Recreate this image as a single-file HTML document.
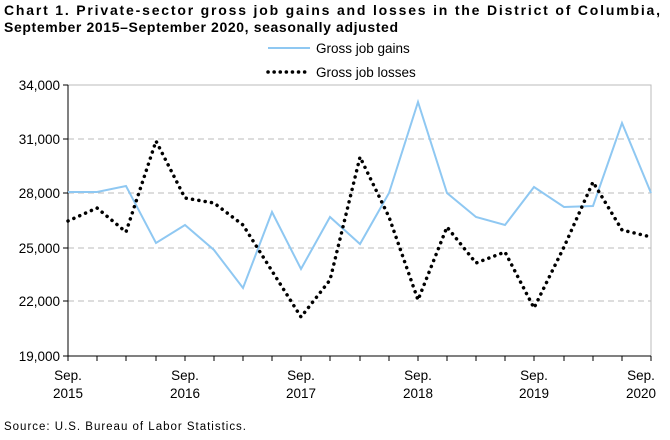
<!DOCTYPE html>
<html><head><meta charset="utf-8"><style>
body{margin:0;background:#fff;width:670px;height:435px;overflow:hidden}
svg{font-family:"Liberation Sans",Arial,sans-serif}
</style></head><body>
<svg width="670" height="435" viewBox="0 0 670 435">
<text x="4" y="15" font-size="14" font-weight="bold" textLength="656" lengthAdjust="spacing">Chart 1. Private-sector gross job gains and losses in the District of Columbia,</text>
<text x="4" y="32" font-size="14" font-weight="bold" textLength="394" lengthAdjust="spacing">September 2015–September 2020, seasonally adjusted</text>
<line x1="268" y1="48" x2="310" y2="48" stroke="#8fc8f2" stroke-width="2"/>
<text x="316" y="53" font-size="13.5">Gross job gains</text>
<line x1="268" y1="72" x2="310" y2="72" stroke="#000" stroke-width="3.5" stroke-dasharray="0.1 6" stroke-linecap="round"/>
<text x="316" y="77" font-size="13.5">Gross job losses</text>
<rect x="68" y="85" width="583" height="271" fill="none" stroke="#bbb" stroke-width="1"/>
<g stroke="#bbb" stroke-dasharray="6 4" stroke-width="1">
<line x1="68" y1="139" x2="651" y2="139"/><line x1="68" y1="193" x2="651" y2="193"/>
<line x1="68" y1="248" x2="651" y2="248"/><line x1="68" y1="301" x2="651" y2="301"/>
</g>
<g stroke="#000" stroke-width="1">
<line x1="68" y1="85" x2="68" y2="356"/><line x1="68" y1="356" x2="651" y2="356"/>
<line x1="63" y1="85" x2="68" y2="85"/><line x1="63" y1="139" x2="68" y2="139"/><line x1="63" y1="193" x2="68" y2="193"/><line x1="63" y1="248" x2="68" y2="248"/><line x1="63" y1="301" x2="68" y2="301"/><line x1="63" y1="356" x2="68" y2="356"/>
<path d="M68 356v5M97 356v5M126 356v5M156 356v5M185 356v5M214 356v5M243 356v5M272 356v5M301 356v5M330 356v5M360 356v5M389 356v5M418 356v5M447 356v5M476 356v5M505 356v5M534 356v5M564 356v5M593 356v5M622 356v5M651 356v5"/>
</g>
<g font-size="13.5" text-anchor="end">
<text x="60" y="90">34,000</text><text x="60" y="144">31,000</text><text x="60" y="198">28,000</text><text x="60" y="253">25,000</text><text x="60" y="306">22,000</text><text x="60" y="361">19,000</text>
</g>
<g font-size="13.5" text-anchor="middle">
<text x="68" y="380">Sep.</text><text x="68" y="398">2015</text>
<text x="185" y="380">Sep.</text><text x="185" y="398">2016</text>
<text x="301" y="380">Sep.</text><text x="301" y="398">2017</text>
<text x="418" y="380">Sep.</text><text x="418" y="398">2018</text>
<text x="534" y="380">Sep.</text><text x="534" y="398">2019</text>
<text x="641" y="380">Sep.</text><text x="641" y="398">2020</text>
</g>
<polyline fill="none" stroke="#8fc8f2" stroke-width="2" points="68,192 97,192 126,186 156,243 185,225 214,250 243,288 272,212 301,269 330,217 360,244 389,193 418,102 447,193 476,217 505,225 534,187 564,207 593,206 622,123 651,193"/>
<polyline fill="none" stroke="#000" stroke-width="3.5" stroke-dasharray="0.1 6.3" stroke-linecap="round" stroke-linejoin="round" points="68,221 97,208 126,232 156,141 185,198 214,203 243,225 272,271 301,317 330,280 360,157 389,217 418,300 447,227 476,263 505,252 534,308 564,247 593,182 622,230 647,236"/>
<text x="4" y="430" font-size="11.5" textLength="242" lengthAdjust="spacing">Source: U.S. Bureau of Labor Statistics.</text>
</svg>
</body></html>
